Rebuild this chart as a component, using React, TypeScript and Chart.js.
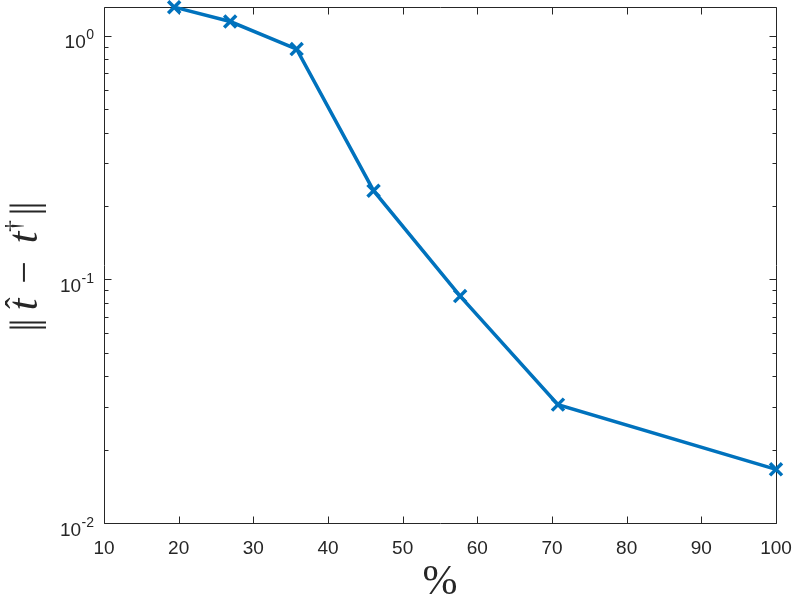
import React, { useEffect, useRef } from "react";
import { Chart, registerables } from "chart.js";

Chart.register(...registerables);

const percentValues = [19.4, 26.9, 35.8, 46.1, 57.7, 70.8, 100];
const errorValues = [1.308, 1.142, 0.88, 0.231, 0.0853, 0.0306, 0.0166];
const xTicks = [10, 20, 30, 40, 50, 60, 70, 80, 90, 100];
const yMajorExponents = [-2, -1, 0];

const AXIS_COLOR = "#262626";
const LINE_COLOR = "#0072BD";

const axesPlugin = {
  id: "matlabAxes",
  beforeDatasetsDraw(chart: any) {
    const { ctx, chartArea, scales } = chart;
    const xs = scales.x;
    const ys = scales.y;
    const L = Math.round(chartArea.left) + 0.5;
    const R = Math.round(chartArea.right) + 0.5;
    const T = Math.round(chartArea.top) + 0.5;
    const B = Math.round(chartArea.bottom) + 0.5;
    ctx.save();
    ctx.strokeStyle = AXIS_COLOR;
    ctx.lineWidth = 1;
    ctx.beginPath();
    ctx.rect(L, T, R - L, B - T);
    ctx.stroke();

    ctx.beginPath();
    for (const v of xTicks) {
      const px = Math.round(xs.getPixelForValue(v)) + 0.5;
      ctx.moveTo(px, B);
      ctx.lineTo(px, B - 7);
      ctx.moveTo(px, T);
      ctx.lineTo(px, T + 7);
    }
    const yMin = ys.min;
    const yMax = ys.max;
    for (const e of yMajorExponents) {
      for (let m = 1; m <= 9; m++) {
        const v = m * Math.pow(10, e);
        if (v < yMin - 1e-12 || v > yMax + 1e-12) continue;
        const py = Math.round(ys.getPixelForValue(v)) + 0.5;
        const len = m === 1 ? 7 : 4;
        ctx.moveTo(L, py);
        ctx.lineTo(L + len, py);
        ctx.moveTo(R, py);
        ctx.lineTo(R - len, py);
      }
    }
    ctx.stroke();

    ctx.fillStyle = AXIS_COLOR;
    ctx.font = "19px 'Liberation Sans', Arial, sans-serif";
    ctx.textAlign = "center";
    ctx.textBaseline = "alphabetic";
    for (const v of xTicks) {
      const px = xs.getPixelForValue(v);
      ctx.fillText(String(v), px, B + 30);
    }

    for (const e of yMajorExponents) {
      const py = ys.getPixelForValue(Math.pow(10, e));
      const expText = e < 0 ? "-" + Math.abs(e) : String(e);
      ctx.font = "14px 'Liberation Sans', Arial, sans-serif";
      const ew = ctx.measureText(expText).width;
      const right = 94;
      ctx.textAlign = "left";
      ctx.fillText(expText, right - ew, py + 3.5);
      ctx.font = "19px 'Liberation Sans', Arial, sans-serif";
      ctx.textAlign = "right";
      ctx.fillText("10", right - ew - 0.5, py + 12.5);
    }

    ctx.font = "42px 'Liberation Serif', 'DejaVu Serif', serif";
    ctx.textAlign = "center";
    ctx.fillText("%", (chartArea.left + chartArea.right) / 2, 594);

    const cy = (chartArea.top + chartArea.bottom) / 2;
    ctx.translate(37, cy + 64);
    ctx.rotate(-Math.PI / 2);
    ctx.textAlign = "center";
    const serif = "'Liberation Serif', 'DejaVu Serif', serif";
    ctx.font = "40px " + serif;
    ctx.fillText("|", 1.5, 0);
    ctx.fillText("|", 6.5, 0);
    ctx.font = "italic 42px " + serif;
    ctx.fillText("t", 24.5, 0);
    ctx.font = "34px " + serif;
    ctx.fillText("ˆ", 26, -8);
    ctx.font = "40px " + serif;
    ctx.fillText("−", 56.5, 0);
    ctx.font = "italic 42px " + serif;
    ctx.fillText("t", 91.5, 0);
    ctx.font = "24px " + serif;
    ctx.fillText("†", 103, -16);
    ctx.font = "40px " + serif;
    ctx.fillText("|", 117.5, 0);
    ctx.fillText("|", 123.5, 0);
    ctx.restore();
  },
};

export default function App() {
  const canvasRef = useRef<HTMLCanvasElement | null>(null);

  useEffect(() => {
    document.body.style.margin = "0";
    const canvas = canvasRef.current;
    if (!canvas) return;
    const chart = new Chart(canvas, {
      type: "line",
      data: {
        datasets: [
          {
            data: percentValues.map((x, i) => ({ x, y: errorValues[i] })),
            borderColor: LINE_COLOR,
            backgroundColor: LINE_COLOR,
            borderWidth: 3.5,
            pointStyle: "crossRot",
            pointRadius: 8.5,
            pointBorderWidth: 3.5,
            pointBorderColor: LINE_COLOR,
            pointHoverRadius: 8.5,
            tension: 0,
            fill: false,
            clip: false as any,
          },
        ],
      },
      options: {
        animation: false,
        responsive: false,
        devicePixelRatio: 1,
        layout: { autoPadding: false, padding: { left: 104, right: 17, top: 7, bottom: 76 } },
        plugins: { legend: { display: false }, tooltip: { enabled: false } },
        events: [],
        scales: {
          x: { type: "linear", min: 10, max: 100, display: false },
          y: { type: "logarithmic", min: 0.01, max: 1.31, display: false },
        },
      },
      plugins: [axesPlugin],
    });
    return () => chart.destroy();
  }, []);

  return (
    <div style={{ width: 793, height: 599, background: "#fff" }}>
      <canvas ref={canvasRef} width={793} height={599} style={{ display: "block" }} />
    </div>
  );
}
